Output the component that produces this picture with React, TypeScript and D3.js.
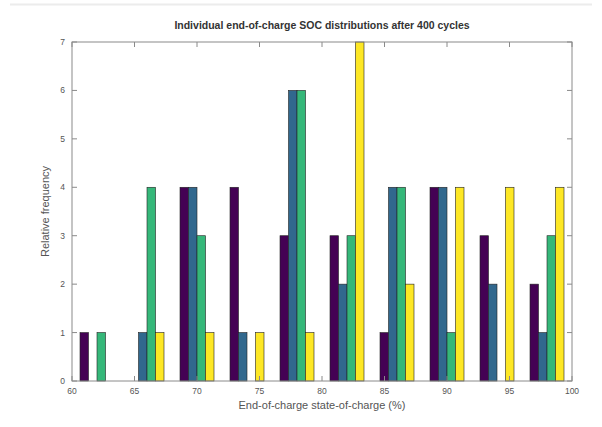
import * as d3 from 'd3'
import React from 'react'

// bin centres (bins of width 4 between 60 and 100)
const binCenters = [62, 66, 70, 74, 78, 82, 86, 90, 94, 98]
const seriesA = [1, 0, 4, 4, 3, 3, 1, 4, 3, 2]
const seriesB = [0, 1, 4, 1, 6, 2, 4, 4, 2, 1]
const seriesC = [1, 4, 3, 0, 6, 3, 4, 1, 0, 3]
const seriesD = [0, 1, 1, 1, 1, 7, 2, 4, 4, 4]
const xTicks = [60, 65, 70, 75, 80, 85, 90, 95, 100]
const yTicks = [0, 1, 2, 3, 4, 5, 6, 7]

const title = 'Individual end-of-charge SOC distributions after 400 cycles'
const xTitle = 'End-of-charge state-of-charge (%)'
const yTitle = 'Relative frequency'

const W = 602, H = 427
const m = { left: 72, right: 30, top: 42, bottom: 46 }

export default function App() {
  const
    series = [seriesA, seriesB, seriesC, seriesD],
    colors = [0, 1 / 3, 2 / 3, 1].map(t => d3.interpolateViridis(t)),
    x = d3.scaleLinear().domain([60, 100]).range([m.left, W - m.right]),
    y = d3.scaleLinear().domain([0, 7]).range([H - m.bottom, m.top]),
    groupWidth = 2.72,
    inner = d3.scaleBand<number>().domain(d3.range(series.length)).range([-groupWidth / 2, groupWidth / 2]).padding(0),
    axisColor = '#8a8a8a',
    textColor = '#555',
    tickLen = 5,
    font = 'Liberation Sans, Arial, sans-serif'

  const x0 = x.range()[0], x1 = x.range()[1], y0 = y.range()[0], y1 = y.range()[1]

  return (
    <svg width={W} height={H} style={{ position: 'absolute', left: 0, top: 0, background: '#fff' }} fontFamily={font}>
      <line x1={10} x2={592} y1={4.5} y2={4.5} stroke='#ececec' strokeWidth={2} />

      {series.map((vals, si) => (
        <g key={si}>
          {vals.map((v, i) => v > 0 && (
            <rect
              key={i}
              x={x(binCenters[i] + inner(si)!)}
              width={x(binCenters[i] + inner(si)! + inner.bandwidth()) - x(binCenters[i] + inner(si)!)}
              y={y(v)}
              height={y(0) - y(v)}
              fill={colors[si]}
              stroke='#222'
              strokeWidth={0.6}
            />
          ))}
        </g>
      ))}

      <rect x={x0} y={y1} width={x1 - x0} height={y0 - y1} fill='none' stroke={axisColor} strokeWidth={1} />

      {xTicks.map(t => (
        <g key={'x' + t}>
          <line x1={x(t)} x2={x(t)} y1={y0} y2={y0 - tickLen} stroke={axisColor} />
          <line x1={x(t)} x2={x(t)} y1={y1} y2={y1 + tickLen} stroke={axisColor} />
          <text x={x(t)} y={y0 + 13} textAnchor='middle' fontSize={8.5} fill={textColor}>{t}</text>
        </g>
      ))}
      {yTicks.map(t => (
        <g key={'y' + t}>
          <line x1={x0} x2={x0 + tickLen} y1={y(t)} y2={y(t)} stroke={axisColor} />
          <line x1={x1} x2={x1 - tickLen} y1={y(t)} y2={y(t)} stroke={axisColor} />
          <text x={x0 - 7} y={y(t) + 3} textAnchor='end' fontSize={8.5} fill={textColor}>{t}</text>
        </g>
      ))}

      <text x={(x0 + x1) / 2} y={29} textAnchor='middle' fontSize={10.5} fontWeight='bold' fill='#333'>{title}</text>
      <text x={(x0 + x1) / 2} y={409} textAnchor='middle' fontSize={11} fill={textColor}>{xTitle}</text>
      <text transform={`translate(49,${(y0 + y1) / 2}) rotate(-90)`} textAnchor='middle' fontSize={11} fill={textColor}>{yTitle}</text>
    </svg>
  )
}
